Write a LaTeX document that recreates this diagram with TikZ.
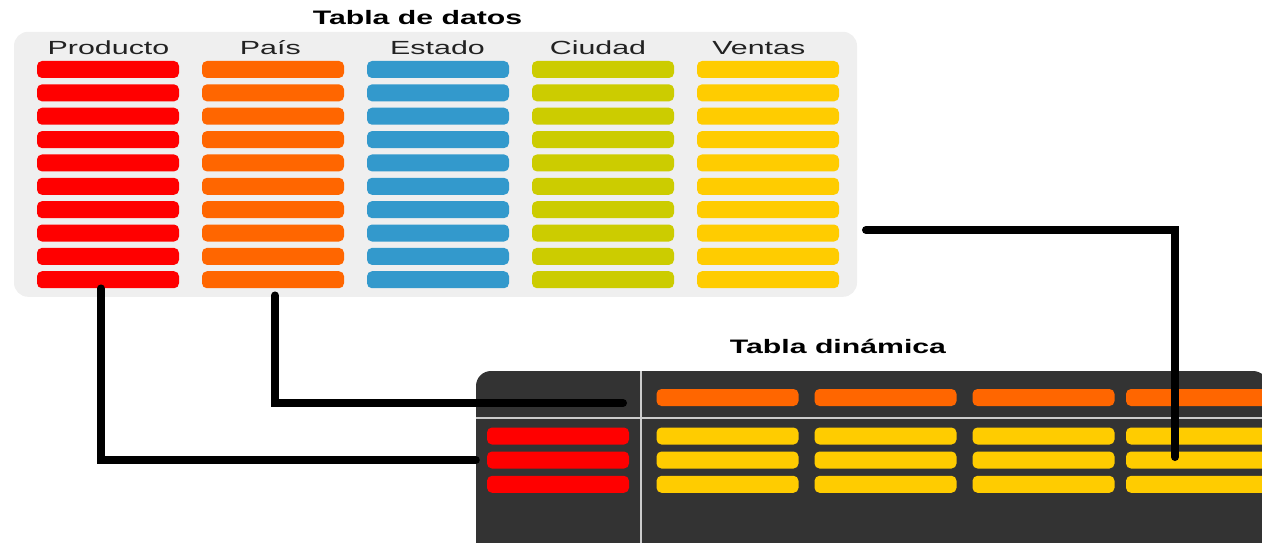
\documentclass[tikz,border=0pt]{standalone}
\usepackage{fontspec}
\setmainfont{Liberation Sans}
\definecolor{cred}{HTML}{FF0000}
\definecolor{corange}{HTML}{FF6600}
\definecolor{cblue}{HTML}{3399CC}
\definecolor{colive}{HTML}{CCCC00}
\definecolor{cyellow}{HTML}{FFCC00}
\definecolor{cpanel}{HTML}{EFEFEF}
\definecolor{cdark}{HTML}{333333}
\definecolor{cdiv}{HTML}{CCCCCC}
\definecolor{ctext}{HTML}{222222}
\begin{document}
\begin{tikzpicture}[x=1pt,y=-1pt,
  bar/.style={rounded corners=5pt, minimum width=142pt, minimum height=17pt, inner sep=0pt, draw=none},
  hdr/.style={anchor=base, inner sep=0pt, text=ctext, font=\fontsize{19}{22}\selectfont, xscale=1.6},
  ttl/.style={anchor=base, inner sep=0pt, text=black, font=\fontsize{19.5}{22}\selectfont\bfseries, xscale=1.55},
  conn/.style={draw=black, line width=8pt, line cap=round, line join=miter},
  divider/.style={draw=cdiv, line width=1.5pt}]
\useasboundingbox (0,0) rectangle (1262,543);
\clip (0,0) rectangle (1262,543);
% panels
\node[fill=cpanel, rounded corners=14pt, minimum width=843pt, minimum height=265pt, inner sep=0pt] (datos) at (435.5,164.3) {};
\node[fill=cdark, rounded corners=15pt, minimum width=792pt, minimum height=189pt, inner sep=0pt] (pivot) at (872,465.5) {};
\draw[divider] (641,371) -- (641,560);
\draw[divider] (476,418) -- (1268,418);
% titles
\node[ttl] (t1) at (417.5,25) {Tabla de datos};
\node[ttl] (t2) at (838,353.3) {Tabla dinámica};
% headers
\node[hdr] (h1) at (108.5,55) {Producto};
\node[hdr] (h2) at (270.3,55) {País};
\node[hdr] (h3) at (437.5,55) {Estado};
\node[hdr] (h4) at (598,55) {Ciudad};
\node[hdr] (h5) at (758.8,55) {Ventas};
% data bars
\foreach \c/\x/\col in {P/108/cred, A/273/corange, E/438/cblue, C/603/colive, V/768/cyellow}{
  \foreach \i in {1,...,10}{
    \node[bar, fill=\col] (\c\i) at (\x,{69.5+(\i-1)*23.36}) {};
  }
}
% pivot bars
\foreach \j/\x in {1/727.5,2/885.5,3/1043.5,4/1197}{
  \node[bar, fill=corange] (O\j) at (\x,397.5) {};
  \foreach \r/\y in {1/436,2/460,3/484.3}{
    \node[bar, fill=cyellow] (Y\j\r) at (\x,\y) {};
  }
}
\foreach \r/\y in {1/436,2/460,3/484.3}{
  \node[bar, fill=cred] (R\r) at (558,\y) {};
}
% connectors
\coordinate (e2) at (623,403);
\coordinate (s3) at (866,230);
\coordinate (e3) at ([xshift=-22pt,yshift=3pt]Y42.center);
\draw[conn] ([xshift=-7pt]P10.south) |- (R2.west -| pivot.west);
\draw[conn] ([xshift=2pt,yshift=-7pt]A10.south) |- (e2);
\draw[conn] (s3) -| (e3);
\end{tikzpicture}
\end{document}
